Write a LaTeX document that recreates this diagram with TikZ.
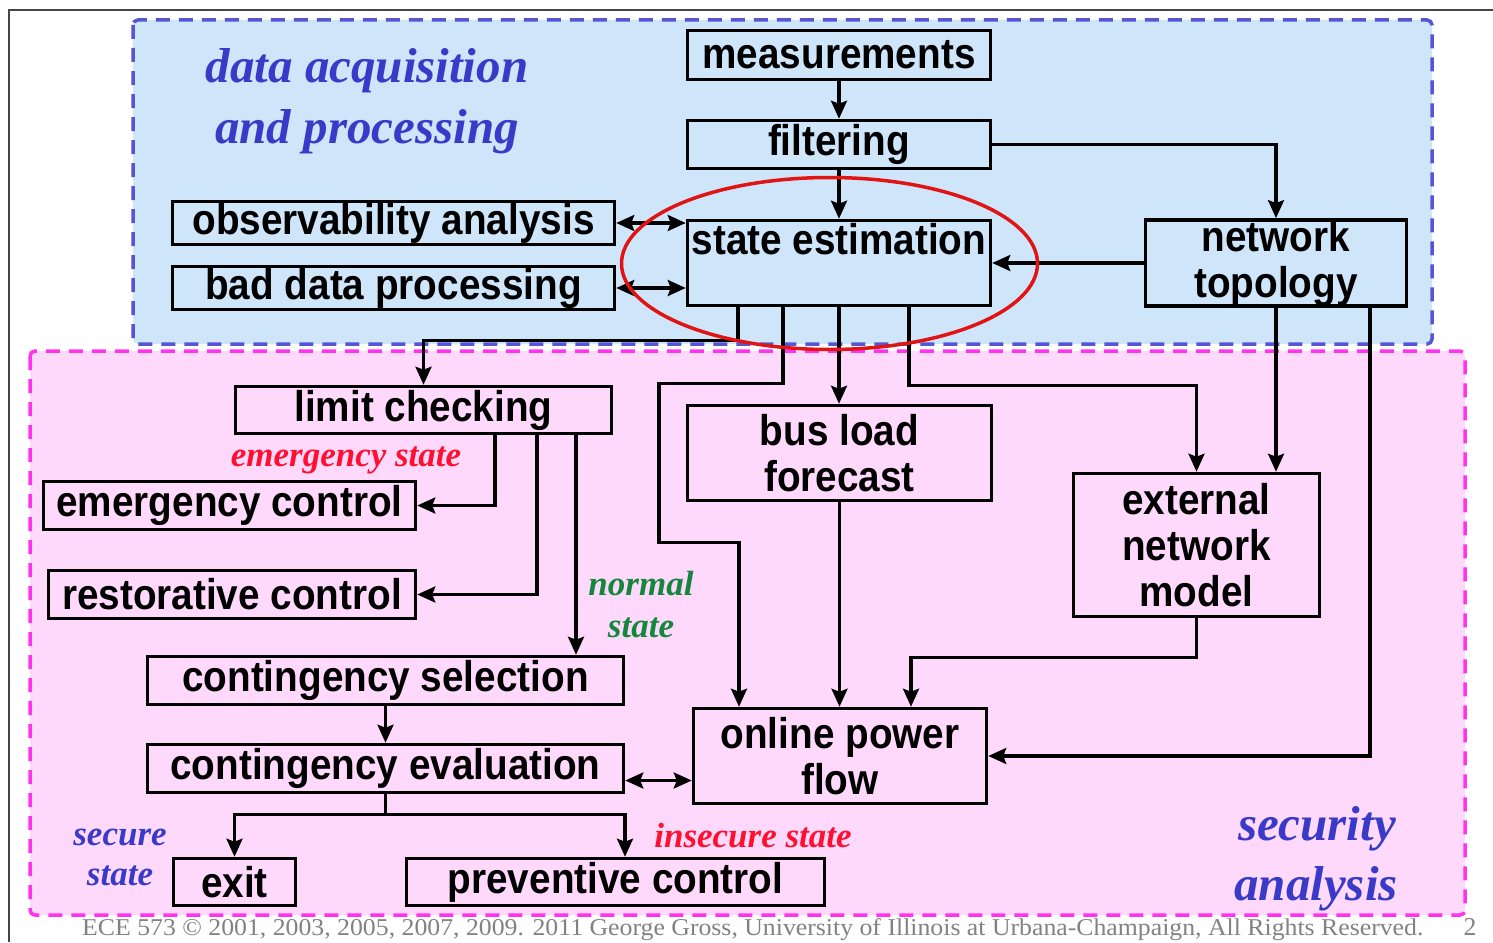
\documentclass[tikz,border=0pt]{standalone}
\usepackage{fontspec}
\setmainfont{Liberation Serif}
\newfontfamily\boxfont{Liberation Sans}[FakeStretch=0.9]
\usetikzlibrary{arrows.meta}

\definecolor{acqfill}{RGB}{206,229,250}
\definecolor{acqline}{RGB}{85,85,213}
\definecolor{secfill}{RGB}{255,217,251}
\definecolor{secline}{RGB}{255,51,238}
\definecolor{titleblue}{RGB}{58,58,200}
\definecolor{statered}{RGB}{255,16,48}
\definecolor{stategreen}{RGB}{20,135,60}
\definecolor{footgray}{RGB}{130,130,130}
\definecolor{ringred}{RGB}{225,20,20}
\definecolor{framegray}{RGB}{70,70,70}

\begin{document}
\begin{tikzpicture}[x=1pt,y=-1pt,
  box/.style={draw=black, line width=3.5pt, inner sep=0pt, align=center,
    font=\boxfont\bfseries\fontsize{43}{46}\selectfont},
  region/.style={line width=3.5pt, dash pattern=on 14pt off 9pt, rounded corners=5pt},
  arr/.style={line width=3.2pt, -{Stealth[length=18pt,width=16pt,inset=3pt]}},
  darr/.style={line width=3.2pt, {Stealth[length=18pt,width=16pt,inset=3pt]}-{Stealth[length=18pt,width=16pt,inset=3pt]}},
  bigtitle/.style={anchor=base, text=titleblue, font=\bfseries\itshape\fontsize{49}{52}\selectfont},
  statelbl/.style={anchor=base, font=\bfseries\itshape\fontsize{35}{38}\selectfont},
]
\useasboundingbox (0,0) rectangle (1493,942);
\fill[white] (0,0) rectangle (1493,942);

% slide frame
\draw[framegray, line width=2pt] (9,942) -- (9,10) -- (1493,10);

% the two areas
\draw[region, draw=acqline, fill=acqfill] (133,20) rectangle (1432,344);
\draw[region, draw=secline, fill=secfill] (30,351) rectangle (1465,915);

% blocks
\node[box, minimum width=303pt, minimum height=49pt] (meas) at (839,55) {measurements};
\node[box, minimum width=303pt, minimum height=48pt] (filt) at (839,144.5) {filtering};
\node[box, minimum width=303pt, minimum height=85pt] (se) at (839,263) {};
\node[anchor=north, inner sep=0pt, font=\boxfont\bfseries\fontsize{43}{46}\selectfont] (setext) at ([yshift=-4pt]se.north) {state estimation};
\node[box, minimum width=261pt, minimum height=85pt] (nt) at (1276,263) {network\\topology};
\node[box, minimum width=442pt, minimum height=43pt] (obs) at (393.5,223) {observability analysis};
\node[box, minimum width=442pt, minimum height=43pt] (bad) at (393.5,288) {bad data processing};
\node[box, minimum width=376pt, minimum height=47pt] (lc) at (423.5,410) {limit checking};
\node[box, minimum width=372pt, minimum height=48pt] (ec) at (229.5,505.5) {emergency control};
\node[box, minimum width=367pt, minimum height=48pt] (rc) at (232,594.5) {restorative control};
\node[box, minimum width=476pt, minimum height=48pt] (cs) at (385.5,680.5) {contingency selection};
\node[box, minimum width=476pt, minimum height=48pt] (ce) at (385.5,768.5) {contingency evaluation};
\node[box, minimum width=122pt, minimum height=47pt] (exit) at (234.5,882) {exit};
\node[box, minimum width=418pt, minimum height=47pt] (pc) at (615.5,882) {preventive control};
\node[box, minimum width=304pt, minimum height=95pt] (blf) at (839.5,453) {bus load\\forecast};
\node[box, minimum width=246pt, minimum height=143pt] (enm) at (1196.5,545) {external\\network\\model};
\node[box, minimum width=293pt, minimum height=95pt] (opf) at (840,756) {online power\\flow};

% branch points
\coordinate (se1) at ([xshift=-101pt]se.south);
\coordinate (se2) at ([xshift=-56pt]se.south);
\coordinate (se3) at ([xshift=70pt]se.south);
\coordinate (nt2) at ([xshift=94pt]nt.south);
\coordinate (lc1) at ([xshift=71.5pt]lc.south);
\coordinate (lc2) at ([xshift=113.5pt]lc.south);
\coordinate (lc3) at ([xshift=152.5pt]lc.south);
\coordinate (opf1) at ([xshift=-101pt]opf.north);
\coordinate (opf3) at ([xshift=71pt]opf.north);
\coordinate (pcin) at ([xshift=9.5pt]pc.north);
\coordinate (ceout) at ([yshift=-12pt]ce.east);

% connectors
\draw[arr] (meas) -- (filt);
\draw[arr] (filt) -- (se);
\draw[arr] (filt.east) -| (nt.north);
\draw[arr] (nt.west) -- (se.east);
\draw[darr] (obs.east) -- (obs.east -| se.west);
\draw[darr] (bad.east) -- (bad.east -| se.west);
\draw[arr] (se1) -- ++(0,33) -| (lc.north);
\draw[arr] (se2) -- ++(0,76) -- ++(-124,0) -- ++(0,159) -| (opf1);
\draw[arr] (se.south) -- (se.south |- blf.north);
\draw[arr] (se3) -- ++(0,78) -| (enm.north);
\draw[arr] (nt.south) -- (nt.south |- enm.north);
\draw[arr] (nt2) |- (opf.east);
\draw[arr] (blf.south) -- (blf.south |- opf.north);
\draw[arr] (enm.south) -- ++(0,39) -| (opf3);
\draw[arr] (lc1) |- (ec.east);
\draw[arr] (lc2) |- (rc.east);
\draw[arr] (lc3) -- (lc3 |- cs.north);
\draw[arr] (cs) -- (ce);
\draw[darr] (ceout) -- (ceout -| opf.west);
\draw[arr] (ce.south) -- ++(0,20) -| (exit.north);
\draw[arr] (ce.south) -- ++(0,20) -| (pcin);

% area titles and state labels
\node[bigtitle] (t1) at (367,82) {data acquisition};
\node[bigtitle] (t2) at (367,143) {and processing};
\node[bigtitle] (t3) at (1317,840) {security};
\node[bigtitle] (t4) at (1316,900) {analysis};
\node[statelbl, text=statered] (l1) at (346,466) {emergency state};
\node[statelbl, text=stategreen] (l2) at (641,595) {normal};
\node[statelbl, text=stategreen] (l3) at (641,637) {state};
\node[statelbl, text=titleblue] (l4) at (120,845) {secure};
\node[statelbl, text=titleblue] (l5) at (120,885) {state};
\node[statelbl, text=statered] (l6) at (753,847) {insecure state};

% highlight ring round the state estimator
\draw[ringred, line width=3.5pt] (829.5,263.5) ellipse [x radius=208pt, y radius=86pt];

% footer
\node[anchor=base west, inner sep=0pt, text=footgray] (foot) at (82,935)
  {\resizebox{1341pt}{17pt}{ECE 573 © 2001, 2003, 2005, 2007, 2009. 2011 George Gross, University of Illinois at Urbana-Champaign, All Rights Reserved.}};
\node[anchor=base, inner sep=0pt, text=footgray] (pg) at (1470,935) {\resizebox{!}{17pt}{2}};
\end{tikzpicture}
\end{document}
